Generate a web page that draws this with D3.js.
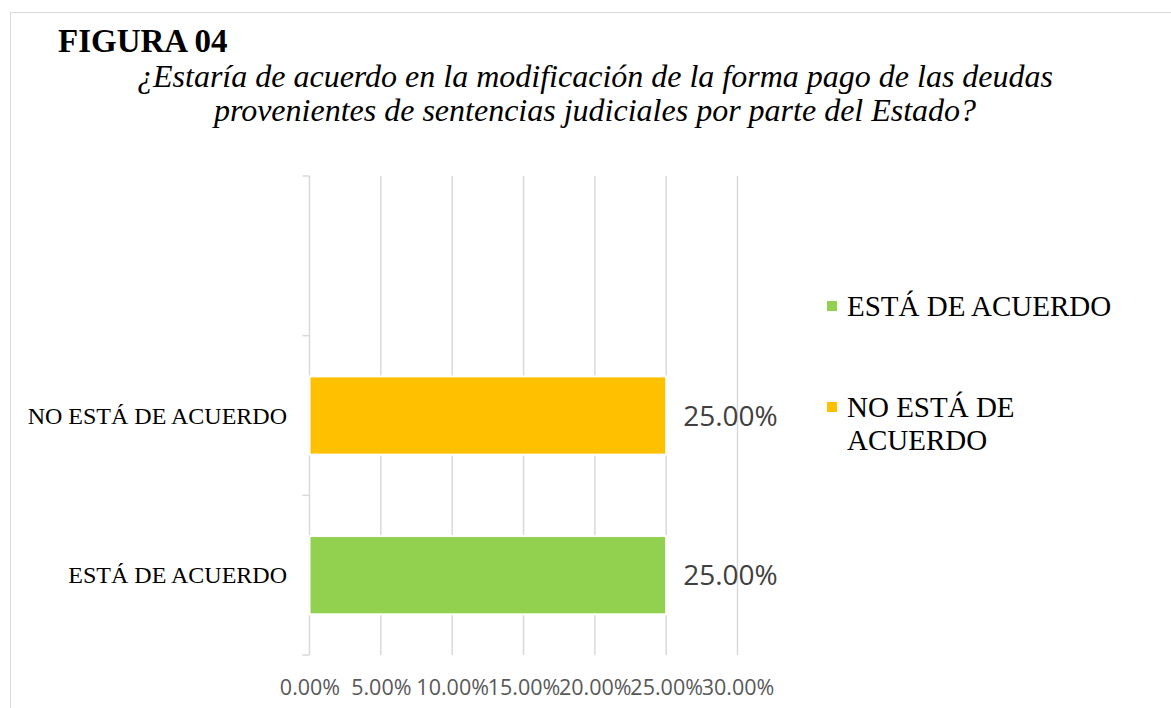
<!DOCTYPE html>
<html>
<head>
<meta charset="utf-8">
<script src="https://cdn.jsdelivr.net/npm/d3@7"></script>
<style>
  html, body { margin: 0; padding: 0; background: #fff; }
  svg { display: block; }
</style>
</head>
<body>
<div id="chart"></div>
<script>
// data
var categories = ["ESTÁ DE ACUERDO", "NO ESTÁ DE ACUERDO", ""];
var values = [0.25, 0.25, null];
var barColors = ["#92d050", "#ffc000", "none"];
var legendLabels = [["ESTÁ DE ACUERDO"], ["NO ESTÁ DE", "ACUERDO"]];
var legendColors = ["#92d050", "#ffc000"];
var xTicks = [0, 0.05, 0.10, 0.15, 0.20, 0.25, 0.30];
var titleText = "FIGURA 04";
var subtitleLines = [
    "¿Estaría de acuerdo en la modificación de la forma pago de las deudas",
    "provenientes de sentencias judiciales por parte del Estado?"
];

var W = 1171, H = 708;
var svg = d3.select("#chart").append("svg")
    .attr("width", W).attr("height", H);

// chart area frame
svg.append("rect")
    .attr("x", 10.5).attr("y", 12.5)
    .attr("width", W + 20).attr("height", H + 20)
    .attr("fill", "none").attr("stroke", "#d9d9d9").attr("stroke-width", 1);

svg.append("text")
    .attr("x", 58).attr("y", 52)
    .style("font-family", "'Liberation Serif', 'Times New Roman', serif")
    .style("font-weight", "bold").style("font-size", "33px")
    .text(titleText);

svg.selectAll(".subtitle").data(subtitleLines).enter().append("text")
    .attr("class", "subtitle")
    .attr("x", 595).attr("y", function (d, i) { return 87 + i * 34; })
    .attr("text-anchor", "middle")
    .style("font-family", "'Liberation Serif', 'Times New Roman', serif")
    .style("font-style", "italic").style("font-size", "32px")
    .text(function (d) { return d; });

var x = d3.scaleLinear().domain([0, 0.30]).range([309.5, 737.5]);
var y = d3.scaleBand().domain(categories).range([655, 176]);

var grid = svg.append("g");
grid.selectAll("line").data(xTicks.slice(1)).enter().append("line")
    .attr("x1", function (d) { return x(d); })
    .attr("x2", function (d) { return x(d); })
    .attr("y1", y.range()[1]).attr("y2", y.range()[0])
    .attr("stroke", "#d9d9d9").attr("stroke-width", 1.5);

// category axis (Excel style: ticks between categories)
var yAxis = svg.append("g");
yAxis.append("line")
    .attr("x1", x(0)).attr("x2", x(0))
    .attr("y1", y.range()[1]).attr("y2", y.range()[0])
    .attr("stroke", "#d9d9d9").attr("stroke-width", 1.5);
var edges = categories.map(function (c) { return y(c); }).concat([y.range()[0]]);
yAxis.selectAll(".tk").data(edges).enter().append("line")
    .attr("class", "tk")
    .attr("x1", x(0) - 7).attr("x2", x(0))
    .attr("y1", function (d) { return d; }).attr("y2", function (d) { return d; })
    .attr("stroke", "#d9d9d9").attr("stroke-width", 1.5);
yAxis.selectAll(".cat").data(categories).enter().append("text")
    .attr("class", "cat")
    .attr("x", 287)
    .attr("y", function (d) { return y(d) + y.bandwidth() / 2 + 8; })
    .attr("text-anchor", "end")
    .style("font-family", "'Liberation Serif', 'Times New Roman', serif")
    .style("font-size", "24px")
    .text(function (d) { return d; });

var barH = y.bandwidth() * 0.49;
var rows = categories.map(function (c, i) {
    return { cat: c, value: values[i], color: barColors[i] };
}).filter(function (r) { return r.value != null; });

svg.append("g").selectAll("rect").data(rows).enter().append("rect")
    .attr("x", x(0))
    .attr("y", function (d) { return y(d.cat) + (y.bandwidth() - barH) / 2; })
    .attr("width", function (d) { return x(d.value) - x(0); })
    .attr("height", barH)
    .attr("fill", function (d) { return d.color; })
    .attr("stroke", "#fff").attr("stroke-width", 2);

svg.append("g").selectAll("text").data(rows).enter().append("text")
    .attr("x", function (d) { return x(d.value) + 17; })
    .attr("y", function (d) { return y(d.cat) + y.bandwidth() / 2 + 10; })
    .style("font-family", "'Open Sans', sans-serif")
    .style("font-size", "28px").attr("fill", "#404040")
    .text(function (d) { return d3.format(".2%")(d.value); });

var xAxis = svg.append("g")
    .attr("transform", "translate(0," + (y.range()[0] + 37) + ")")
    .call(d3.axisBottom(x).tickValues(xTicks).tickFormat(d3.format(".2%")).tickSize(0));
xAxis.select(".domain").remove();
xAxis.selectAll("text")
    .style("font-family", "'Open Sans', sans-serif")
    .style("font-size", "21.5px").attr("fill", "#595959").attr("dy", "0");

var legend = svg.append("g").selectAll("g").data(legendLabels).enter().append("g")
    .attr("transform", function (d, i) { return "translate(827," + (316 + i * 101) + ")"; });
legend.append("rect")
    .attr("x", 0).attr("y", -15).attr("width", 10).attr("height", 10)
    .attr("fill", function (d, i) { return legendColors[i]; });
legend.selectAll("text").data(function (d) { return d; }).enter().append("text")
    .attr("x", 20).attr("y", function (d, j) { return j * 33; })
    .style("font-family", "'Liberation Serif', 'Times New Roman', serif")
    .style("font-size", "29px")
    .text(function (d) { return d; });
</script>
</body>
</html>
